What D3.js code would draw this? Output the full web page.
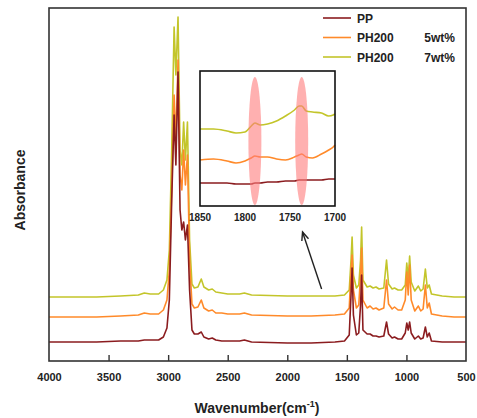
<!DOCTYPE html>
<html>
<head>
<meta charset="utf-8">
<script src="https://cdn.jsdelivr.net/npm/d3@7"></script>
<style>
  body { margin: 0; background: #fff; }
  text { font-family: "Liberation Sans", Arial, sans-serif; font-weight: bold; fill: #222; }
</style>
</head>
<body>
<svg id="chart" width="477" height="418"></svg>
<script>
// Wavenumber grid (cm-1) for the full spectrum
const wavenumbers = [4000, 3600, 3400, 3250, 3200, 3150, 3080, 3040, 3010, 2990, 2970, 2950, 2935, 2917,
  2900, 2885, 2870, 2855, 2838, 2820, 2800, 2780, 2750, 2722, 2700, 2660, 2630, 2600, 2550, 2500,
  2400, 2360, 2300, 2000, 1800, 1600, 1520, 1480, 1465, 1456, 1445, 1420, 1400, 1385, 1376, 1365,
  1330, 1305, 1280, 1255, 1230, 1190, 1167, 1150, 1120, 1100, 1070, 1040, 1010, 997, 985, 973, 960,
  930, 900, 880, 860, 841, 825, 809, 790, 700, 600, 500];

// Absorbance (a.u., stacked) for each sample
const pp = [0.19, 0.19, 0.20, 0.20, 0.21, 0.21, 0.21, 0.24, 0.33, 0.61, 1.61, 2.46, 1.96, 2.89,
  1.51, 1.31, 1.39, 1.21, 1.36, 0.71, 0.31, 0.27, 0.27, 0.29, 0.24, 0.22, 0.23, 0.21, 0.20, 0.20,
  0.20, 0.21, 0.19, 0.18, 0.18, 0.19, 0.20, 0.26, 0.66, 0.93, 0.46, 0.26, 0.28, 0.56, 0.86, 0.31,
  0.27, 0.27, 0.25, 0.25, 0.24, 0.25, 0.39, 0.27, 0.23, 0.24, 0.22, 0.22, 0.28, 0.38, 0.31, 0.39, 0.28,
  0.22, 0.25, 0.22, 0.23, 0.34, 0.24, 0.28, 0.20, 0.19, 0.19, 0.19];
const ph5 = [0.44, 0.44, 0.45, 0.46, 0.48, 0.47, 0.47, 0.51, 0.61, 0.91, 1.71, 2.66, 2.21, 3.01,
  1.86, 1.71, 2.11, 1.76, 2.06, 1.01, 0.57, 0.53, 0.54, 0.61, 0.53, 0.50, 0.51, 0.48, 0.48, 0.47,
  0.47, 0.48, 0.46, 0.45, 0.45, 0.46, 0.47, 0.53, 0.91, 1.06, 0.71, 0.53, 0.56, 0.86, 1.13, 0.61,
  0.53, 0.55, 0.52, 0.53, 0.51, 0.53, 0.81, 0.57, 0.52, 0.54, 0.51, 0.51, 0.61, 0.89, 0.66, 0.96, 0.61,
  0.50, 0.55, 0.50, 0.52, 0.76, 0.53, 0.58, 0.47, 0.45, 0.44, 0.44];
const ph7 = [0.64, 0.64, 0.65, 0.66, 0.68, 0.67, 0.67, 0.71, 0.81, 1.11, 2.11, 3.34, 2.86, 3.44,
  2.11, 1.96, 2.39, 2.01, 2.39, 1.21, 0.77, 0.73, 0.74, 0.82, 0.74, 0.71, 0.72, 0.69, 0.68, 0.67,
  0.67, 0.68, 0.66, 0.65, 0.65, 0.65, 0.66, 0.71, 1.01, 1.24, 0.86, 0.73, 0.76, 1.01, 1.34, 0.81,
  0.74, 0.75, 0.73, 0.74, 0.72, 0.73, 1.01, 0.77, 0.72, 0.73, 0.71, 0.71, 0.76, 0.98, 0.81, 1.05, 0.79,
  0.70, 0.75, 0.70, 0.72, 0.92, 0.73, 0.76, 0.67, 0.65, 0.64, 0.64];

// Inset: 1850-1700 cm-1 detail
const insetWavenumbers = [1850, 1835, 1820, 1810, 1800, 1793, 1789, 1783, 1775, 1765, 1755, 1745,
  1740, 1737, 1732, 1725, 1715, 1707, 1702, 1700];
const insetPP = [0.23, 0.23, 0.23, 0.22, 0.22, 0.22, 0.23, 0.23, 0.24, 0.24, 0.25, 0.25,
  0.26, 0.26, 0.26, 0.26, 0.26, 0.27, 0.27, 0.27];
const insetPH5 = [0.46, 0.47, 0.45, 0.43, 0.45, 0.48, 0.50, 0.49, 0.49, 0.47, 0.46, 0.49,
  0.51, 0.52, 0.49, 0.48, 0.52, 0.56, 0.59, 0.61];
const insetPH7 = [0.77, 0.77, 0.75, 0.73, 0.74, 0.80, 0.83, 0.81, 0.82, 0.85, 0.90, 0.96,
  1.00, 1.00, 0.95, 0.94, 0.93, 0.90, 0.91, 0.92];
const highlightBands = [1789, 1737];

const xTicks = [4000, 3500, 3000, 2500, 2000, 1500, 1000, 500];
const insetTicks = [1850, 1800, 1750, 1700];

const seriesInfo = [
  { name: "PP", wt: "", color: "#8b1c1f", values: pp, inset: insetPP },
  { name: "PH200", wt: "5wt%", color: "#ff8a2a", values: ph5, inset: insetPH5 },
  { name: "PH200", wt: "7wt%", color: "#c3c52a", values: ph7, inset: insetPH7 }
];

const svg = d3.select("#chart");
const margin = { left: 49, right: 11, top: 8, bottom: 57 };
const width = 477, height = 418;

const x = d3.scaleLinear().domain([4000, 500]).range([margin.left, width - margin.right]);
const y = d3.scaleLinear().domain([0, 3.53]).range([height - margin.bottom, margin.top]);

// Spectra (drawn so PP sits on top)
const line = d3.line()
  .x((d, i) => x(wavenumbers[i]))
  .y(d => y(d));

svg.append("g")
  .selectAll("path")
  .data(seriesInfo.slice().reverse())
  .join("path")
  .attr("d", d => line(d.values))
  .attr("fill", "none")
  .attr("stroke", d => d.color)
  .attr("stroke-width", 1.6)
  .attr("stroke-linejoin", "round");

// Frame
svg.append("rect")
  .attr("x", margin.left)
  .attr("y", margin.top)
  .attr("width", width - margin.left - margin.right)
  .attr("height", height - margin.top - margin.bottom)
  .attr("fill", "none")
  .attr("stroke", "#333")
  .attr("stroke-width", 1.6);

// X axis with inward ticks
const xAxis = svg.append("g")
  .attr("transform", `translate(0,${height - margin.bottom})`)
  .call(d3.axisBottom(x).tickValues(xTicks).tickFormat(d3.format("d"))
    .tickSizeInner(-6).tickSizeOuter(0).tickPadding(12));
xAxis.select(".domain").remove();
xAxis.selectAll(".tick line").attr("stroke", "#333").attr("stroke-width", 1.4)
  .filter(d => d === 4000 || d === 500).remove();
xAxis.selectAll("text").attr("font-size", 11).attr("fill", "#222")
  .style("font-family", "'Liberation Sans', Arial, sans-serif").style("font-weight", "bold");

// Axis titles
const xt = svg.append("text")
  .attr("x", 257)
  .attr("y", 413)
  .attr("text-anchor", "middle")
  .attr("font-size", 14);
xt.append("tspan").text("Wavenumber(cm");
xt.append("tspan").attr("font-size", 9).attr("dy", -6).text("-1");
xt.append("tspan").attr("dy", 6).text(")");

svg.append("text")
  .attr("transform", "translate(25,190) rotate(-90)")
  .attr("text-anchor", "middle")
  .attr("font-size", 14)
  .text("Absorbance");

// Legend
const legend = svg.append("g");
seriesInfo.forEach((s, i) => {
  const ly = 18 + i * 19.5;
  legend.append("line")
    .attr("x1", 323).attr("x2", 351).attr("y1", ly).attr("y2", ly)
    .attr("stroke", s.color).attr("stroke-width", 1.6);
  legend.append("text").attr("x", 357).attr("y", ly + 4.5).attr("font-size", 12).text(s.name);
  if (s.wt) {
    legend.append("text").attr("x", 455).attr("y", ly + 4.5).attr("font-size", 12)
      .attr("text-anchor", "end").text(s.wt);
  }
});

// Inset
const inset = { left: 200, right: 335, top: 71, bottom: 206 };
const ix = d3.scaleLinear().domain([1850, 1700]).range([inset.left, inset.right]);
const iy = d3.scaleLinear().domain([0, 1.35]).range([inset.bottom, inset.top]);

svg.append("rect")
  .attr("x", inset.left).attr("y", inset.top)
  .attr("width", inset.right - inset.left).attr("height", inset.bottom - inset.top)
  .attr("fill", "#fff");

const insetLine = d3.line()
  .x((d, i) => ix(insetWavenumbers[i]))
  .y(d => iy(d))
  .curve(d3.curveMonotoneX);

svg.append("g")
  .selectAll("path")
  .data(seriesInfo)
  .join("path")
  .attr("d", d => insetLine(d.inset))
  .attr("fill", "none")
  .attr("stroke", d => d.color)
  .attr("stroke-width", 1.6);

svg.append("g")
  .selectAll("ellipse")
  .data(highlightBands)
  .join("ellipse")
  .attr("cx", d => ix(d))
  .attr("cy", iy(0.65))
  .attr("rx", 6.5)
  .attr("ry", (iy(0.01) - iy(1.29)) / 2)
  .attr("fill", "#ff7b7b")
  .attr("opacity", 0.6);

svg.append("rect")
  .attr("x", inset.left).attr("y", inset.top)
  .attr("width", inset.right - inset.left).attr("height", inset.bottom - inset.top)
  .attr("fill", "none")
  .attr("stroke", "#111")
  .attr("stroke-width", 1.6);

svg.append("g")
  .selectAll("text")
  .data(insetTicks)
  .join("text")
  .attr("x", d => ix(d))
  .attr("y", inset.bottom + 15)
  .attr("text-anchor", "middle")
  .attr("font-size", 10)
  .text(d => d);

// Arrow pointing at the inset
const arrowTail = [1712, 0.72], arrowTip = [1872, 1.29];
const ax1 = x(arrowTail[0]), ay1 = y(arrowTail[1]), ax2 = x(arrowTip[0]), ay2 = y(arrowTip[1]);
const ang = Math.atan2(ay2 - ay1, ax2 - ax1);
svg.append("line")
  .attr("x1", ax1).attr("y1", ay1).attr("x2", ax2).attr("y2", ay2)
  .attr("stroke", "#222").attr("stroke-width", 1.4);
svg.append("path")
  .attr("d", `M${ax2 - 9 * Math.cos(ang - 0.4)},${ay2 - 9 * Math.sin(ang - 0.4)} L${ax2},${ay2} L${ax2 - 9 * Math.cos(ang + 0.4)},${ay2 - 9 * Math.sin(ang + 0.4)}`)
  .attr("fill", "none").attr("stroke", "#222").attr("stroke-width", 1.4);
</script>
</body>
</html>
